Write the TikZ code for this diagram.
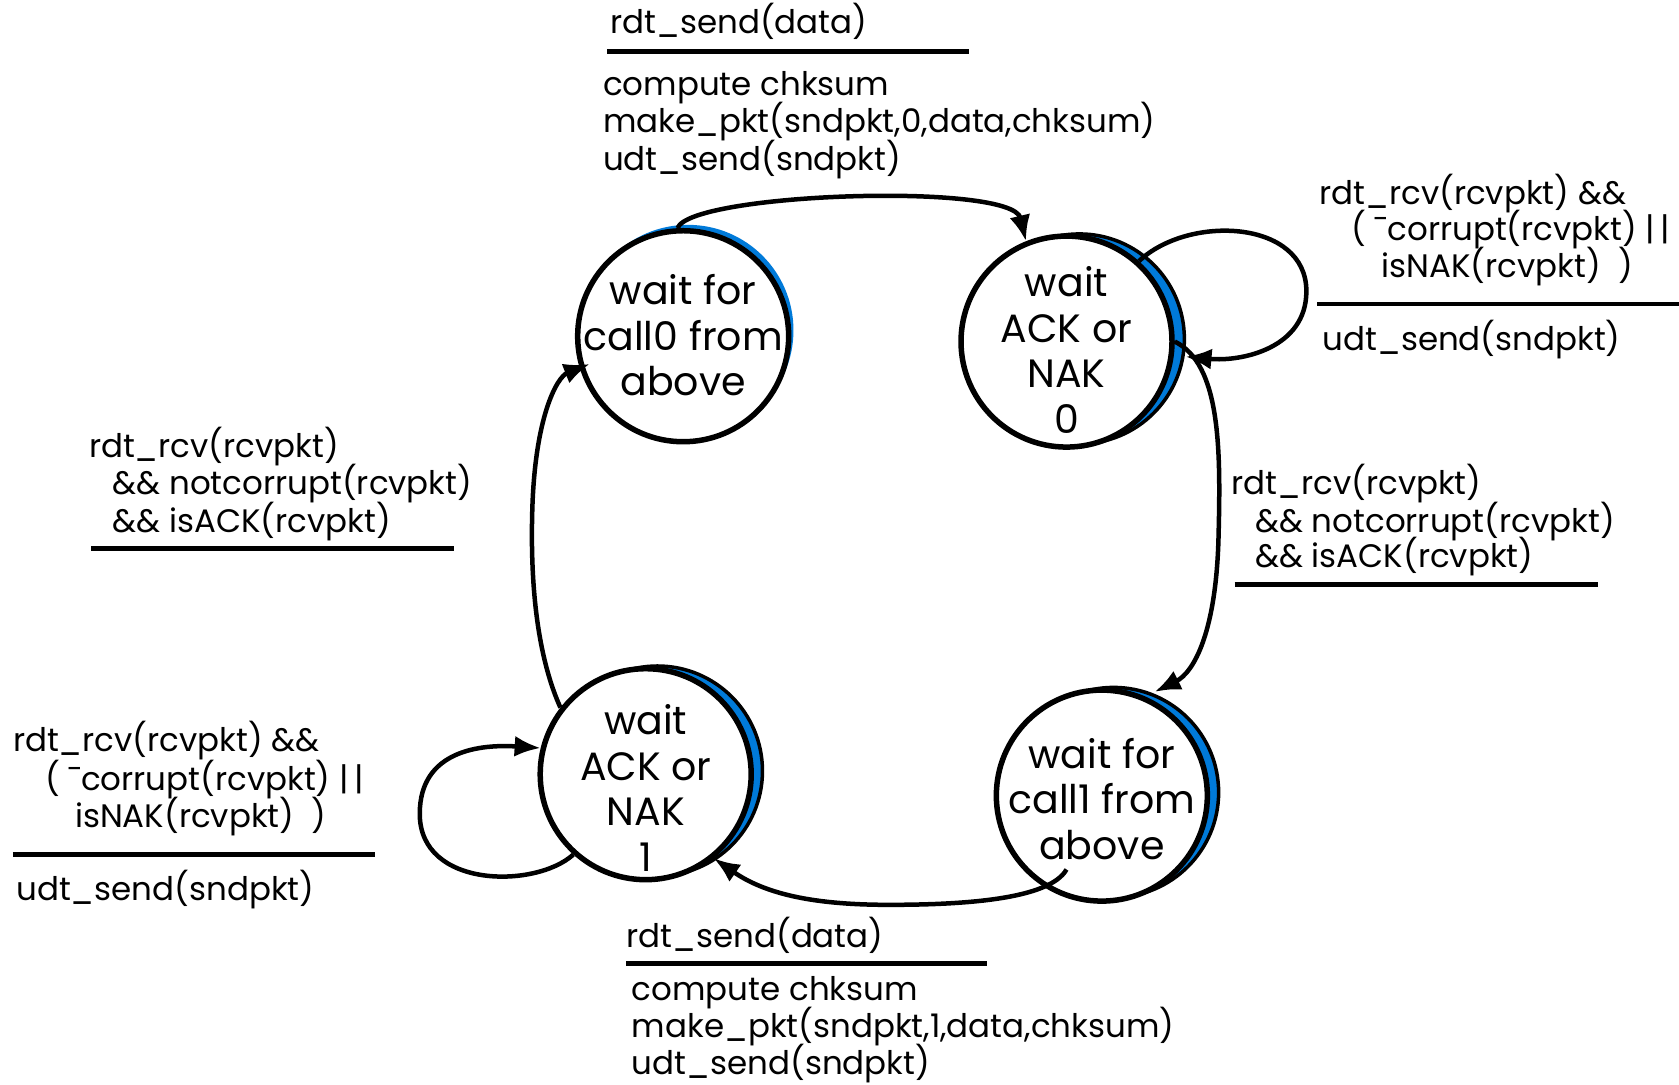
\documentclass[tikz,border=0pt]{standalone}
\usepackage{fontspec}
\setmainfont{Poppins}
\usetikzlibrary{arrows.meta,calc,backgrounds}
\definecolor{shadowblue}{RGB}{0,122,217}
\begin{document}
\begin{tikzpicture}[x=1.0708pt,y=-1.0708pt,
  state/.style={circle, draw, line width=5.5pt, fill=white, minimum size=211pt, inner sep=0pt},
  statetext/.style={align=center, inner sep=0pt, font=\fontsize{39.5}{45.5}\selectfont},
  lbl/.style={anchor=base west, inner sep=0pt, font=\fontsize{32.5}{37}\selectfont},
  rulel/.style={line width=4.5pt},
  edge/.style={line width=4.5pt, -{Latex[length=26pt,width=21pt]}},
  shadowthin/.style={fill=shadowblue},
  shadowthick/.style={fill=shadowblue, draw=black, line width=3.5pt}]
\useasboundingbox (0,0) rectangle (1568,1013);

% states
\node[state] (A) at (638,314) {};
\node[state] (B) at (996,319) {};
\node[state] (C) at (603,723) {};
\node[state] (D) at (1029,743) {};

\begin{scope}[on background layer]
  \path[shadowthin]  ($(A)+(4.5,-5.5)$) circle (105.5pt);
  \path[shadowthick] ($(B)+(12,-2.5)$) circle (105pt);
  \path[shadowthick] ($(C)+(11,-3)$) circle (105pt);
  \path[shadowthick] ($(D)+(11,-3)$) circle (105pt);
\end{scope}

\node[statetext] (At) at (638,313) {wait for\\call0 from\\above};
\node[statetext] (Bt) at (996,327) {wait\\ACK or\\NAK\\0};
\node[statetext] (Ct) at (603,736) {wait\\ACK or\\NAK\\1};
\node[statetext] (Dt) at (1029,746) {wait for\\call1 from\\above};

% connectors
\draw[edge] (A.93) .. controls (645,180) and (945,170) .. (B.112);
\draw[edge] (B.48) .. controls (1110,200) and (1220,205) .. (1220,272)
            .. controls (1220,325) and (1160,338) .. ($(B.-8)+(11,0)$);
\draw[edge] (B.0) .. controls (1140,340) and (1140,420) .. (1138,500)
            .. controls (1136,590) and (1115,628) .. ($(D.64)+(5,-6)$);
\draw[edge] ($(D.center)+(-33,69)$) .. controls (980,840) and (900,845) .. (830,845)
            .. controls (760,845) and (715,835) .. (C.-51);
\draw[edge] (C.-132) .. controls (500,830) and (392,830) .. (392,760)
            .. controls (392,700) and (450,695) .. (C.166);
\draw[edge] (C.142) .. controls (505,620) and (495,560) .. (497,480)
            .. controls (499,390) and (520,352) .. ($(A.196)+(10,-2)$);

% top label
\node[lbl] (l1a) at (570,31) {rdt\_send(data)};
\coordinate (r1a) at (567,48); \coordinate (r1b) at (905,48);
\draw[rulel] (r1a) -- (r1b);
\node[lbl] (l1b) at (563,89) {compute chksum};
\node[lbl] (l1c) at (563,124) {make\_pkt(sndpkt,0,data,chksum)};
\node[lbl] (l1d) at (563,159) {udt\_send(sndpkt)};

% top right label
\node[lbl] (l2a) at (1232,191) {rdt\_rcv(rcvpkt) \&\&};
\node[lbl] (l2b) at (1262,225) {( ¯corrupt(rcvpkt) |\,|};
\node[lbl] (l2c) at (1290,259) {isNAK(rcvpkt) \ )};
\coordinate (r2a) at (1230,284); \coordinate (r2b) at (1568,284);
\draw[rulel] (r2a) -- (r2b);
\node[lbl] (l2d) at (1235,327) {udt\_send(sndpkt)};

% left middle label
\node[lbl] (l3a) at (83,427) {rdt\_rcv(rcvpkt)};
\node[lbl] (l3b) at (105,462) {\&\& notcorrupt(rcvpkt)};
\node[lbl] (l3c) at (105,497) {\&\& isACK(rcvpkt)};
\coordinate (r3a) at (85,512); \coordinate (r3b) at (424,512);
\draw[rulel] (r3a) -- (r3b);

% right middle label
\node[lbl] (l4a) at (1150,462) {rdt\_rcv(rcvpkt)};
\node[lbl] (l4b) at (1172,497) {\&\& notcorrupt(rcvpkt)};
\node[lbl] (l4c) at (1172,530) {\&\& isACK(rcvpkt)};
\coordinate (r4a) at (1153,546); \coordinate (r4b) at (1492,546);
\draw[rulel] (r4a) -- (r4b);

% bottom left label
\node[lbl] (l5a) at (12,702) {rdt\_rcv(rcvpkt) \&\&};
\node[lbl] (l5b) at (42,738) {( ¯corrupt(rcvpkt) |\,|};
\node[lbl] (l5c) at (70,773) {isNAK(rcvpkt) \ )};
\coordinate (r5a) at (12,798); \coordinate (r5b) at (350,798);
\draw[rulel] (r5a) -- (r5b);
\node[lbl] (l5d) at (15,841) {udt\_send(sndpkt)};

% bottom label
\node[lbl] (l6a) at (585,885) {rdt\_send(data)};
\coordinate (r6a) at (585,900); \coordinate (r6b) at (922,900);
\draw[rulel] (r6a) -- (r6b);
\node[lbl] (l6b) at (590,934) {compute chksum};
\node[lbl] (l6c) at (590,969) {make\_pkt(sndpkt,1,data,chksum)};
\node[lbl] (l6d) at (590,1003) {udt\_send(sndpkt)};
\end{tikzpicture}
\end{document}
